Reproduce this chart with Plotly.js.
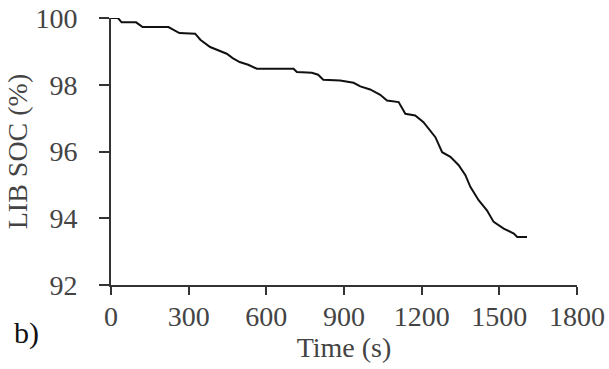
<!DOCTYPE html>
<html>
<head>
<meta charset="utf-8">
<script src="https://cdn.plot.ly/plotly-3.0.1.min.js"></script>
<style>html,body{margin:0;padding:0;background:#fff;}</style>
</head>
<body>
<div id="chart" style="width:609px;height:369px;"></div>
<script>
// Time (s)
const timeS = [0,27,41,97,122,222,240,264,325,345,383,410,447,470,497,530,563,705,718,776,800,820,885,937,963,1001,1040,1066,1111,1137,1175,1207,1230,1253,1279,1311,1343,1369,1388,1420,1452,1478,1517,1556,1569,1607];
// LIB state of charge (%)
const socPct = [100,100,99.87,99.87,99.73,99.73,99.65,99.55,99.53,99.35,99.13,99.05,98.93,98.8,98.68,98.6,98.48,98.48,98.38,98.36,98.3,98.15,98.13,98.06,97.95,97.86,97.7,97.53,97.48,97.13,97.08,96.88,96.65,96.43,95.98,95.84,95.59,95.29,94.94,94.54,94.24,93.89,93.69,93.54,93.44,93.44];
const xTicks = [0,300,600,900,1200,1500,1800];
const yTicks = [92,94,96,98,100];

const fam = 'Liberation Serif';
const axisColor = "#333";
const textColor = "#444";

Plotly.newPlot("chart", [{
  x: timeS, y: socPct, type: "scatter", mode: "lines",
  line: {color: "#111", width: 2}, hoverinfo: "skip"
}], {
  width: 609, height: 369,
  margin: {l: 111, r: 32, t: 18, b: 84},
  paper_bgcolor: "#fff", plot_bgcolor: "#fff",
  showlegend: false,
  font: {family: fam, size: 28, color: textColor},
  xaxis: {
    range: [0, 1800], tickvals: xTicks, ticktext: xTicks.map(String),
    showgrid: false, zeroline: false, showline: true, linecolor: axisColor, linewidth: 2,
    ticks: "outside", ticklen: 8, tickwidth: 2, tickcolor: axisColor,
    tickfont: {family: fam, size: 28, color: textColor},
    ticklabelstandoff: -3,
    title: {text: "Time (s)", font: {family: fam, size: 28, color: textColor}, standoff: 0}
  },
  yaxis: {
    range: [92, 100], tickvals: yTicks, ticktext: yTicks.map(String),
    showgrid: false, zeroline: false, showline: true, linecolor: axisColor, linewidth: 2,
    ticks: "outside", ticklen: 10, tickwidth: 2, tickcolor: axisColor,
    tickfont: {family: fam, size: 28, color: textColor},
    ticklabelstandoff: 16,
    title: {text: "LIB SOC (%)", font: {family: fam, size: 28, color: textColor}, standoff: 0}
  },
  annotations: [{
    text: "b)", xref: "paper", yref: "paper", x: -0.2124, y: -0.18,
    xanchor: "left", yanchor: "middle", showarrow: false,
    font: {family: fam, size: 30, color: "#111"}
  }]
}, {staticPlot: true, displayModeBar: false});
</script>
</body>
</html>
